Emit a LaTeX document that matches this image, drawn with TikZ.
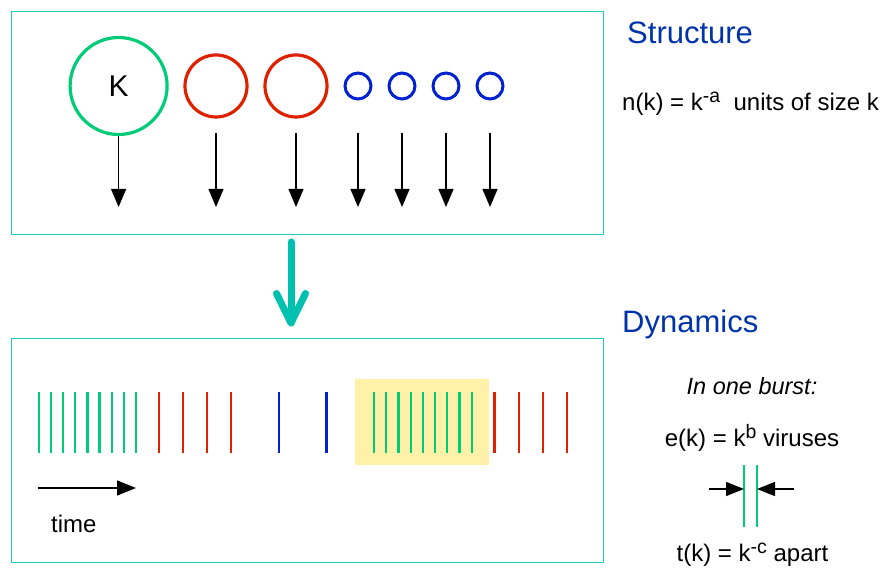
\documentclass[tikz,border=0pt]{standalone}
\usepackage{fontspec}
\setmainfont{Liberation Sans}
\usetikzlibrary{arrows.meta}
\definecolor{cgreen}{RGB}{0,204,119}
\definecolor{cred}{RGB}{221,34,0}
\definecolor{cblue}{RGB}{0,34,204}
\definecolor{ctitle}{RGB}{0,51,170}
\definecolor{cteal}{RGB}{34,204,187}
\definecolor{carrow}{RGB}{0,192,176}
\definecolor{cyellow}{RGB}{255,242,168}
\newcommand\supx[1]{\raisebox{8pt}{\fontsize{19.5}{19.5}\selectfont #1}}
\begin{document}
\begin{tikzpicture}[x=1pt,y=-1pt,
  panel/.style={draw=cteal,line width=1.2pt},
  unitc/.style={circle,draw,inner sep=0pt,line width=3.2pt},
  fallarrow/.style={draw=black,line width=1.1pt,-{Triangle[length=18pt,width=15pt]}},
  bar/.style={line width=2.2pt},
  title/.style={anchor=base west,inner sep=0pt,text=ctitle,font=\fontsize{31}{36}\selectfont},
  body/.style={inner sep=0pt,font=\fontsize{24}{28}\selectfont},
  bigarrow/.style={draw=carrow,line width=7pt,line cap=round,line join=round}
]
\useasboundingbox (0,0) rectangle (887,569);
% panels
\node[panel,minimum width=592pt,minimum height=223pt,anchor=north west,inner sep=0pt] (top) at (11,11) {};
\node[panel,minimum width=592pt,minimum height=224pt,anchor=north west,inner sep=0pt] (bot) at (11,338) {};
% circles
\node[unitc,draw=cgreen,minimum size=97pt,font=\fontsize{30}{34}\selectfont] (c1) at (118.6,86) {K};
\node[unitc,draw=cred,minimum size=62pt] (c2) at (216,86) {};
\node[unitc,draw=cred,minimum size=62pt] (c3) at (296,86) {};
\node[unitc,draw=cblue,minimum size=26pt,line width=3pt] (c4) at (358,86) {};
\node[unitc,draw=cblue,minimum size=26pt,line width=3pt] (c5) at (402,86) {};
\node[unitc,draw=cblue,minimum size=26pt,line width=3pt] (c6) at (446,86) {};
\node[unitc,draw=cblue,minimum size=26pt,line width=3pt] (c7) at (490,86) {};
\coordinate (e1) at (118.6,207);
\draw[fallarrow] (c1.south) -- (e1);
\foreach \i/\x in {2/216,3/296,4/358,5/402,6/446,7/490}{
  \coordinate (s\i) at (\x,133);
  \coordinate (e\i) at (\x,207);
  \draw[fallarrow] (s\i) -- (e\i);
}
% big arrow
\coordinate (ba) at (291,242);
\coordinate (bt) at (291,323);
\coordinate (bl) at (276.5,293.5);
\coordinate (br) at (305.5,293.5);
\draw[bigarrow] (ba) -- (bt);
\draw[bigarrow] (bl) -- (bt) -- (br);
% yellow highlight
\fill[cyellow] (355,379) rectangle (489,465);
% bars
\foreach \x in {39,51.1,63.2,75.3,87.4,99.5,111.6,123.7,135.8}{\draw[bar,cgreen] (\x,392) -- (\x,453);}
\foreach \x in {159,183,207,231}{\draw[bar,cred] (\x,392) -- (\x,453);}
\foreach \x in {279,326.5}{\draw[bar,cblue] (\x,392) -- (\x,453);}
\foreach \x in {374,386.2,398.4,410.6,422.8,435,447.2,459.4,471.6}{\draw[bar,cgreen] (\x,392) -- (\x,453);}
\foreach \x in {494.5,518.6,542.7,566.8}{\draw[bar,cred] (\x,392) -- (\x,453);}
% time arrow
\coordinate (t0) at (37.5,488);
\coordinate (t1) at (136,488);
\draw[draw=black,line width=1.2pt,-{Triangle[length=19pt,width=15pt]}] (t0) -- (t1);
\node[body,anchor=base west] (time) at (51,532) {time};
% right texts
\node[title] (structure) at (627,44) {Structure};
\node[body,anchor=base west] (nk) at (622,111) {n(k) = k\supx{-a}\ \ units of size k};
\node[title] (dynamics) at (622,333) {Dynamics};
\node[body,anchor=base,font=\fontsize{23.5}{28}\itshape] (burst) at (752,395) {In one burst:};
\node[body,anchor=base] (ek) at (752,446.5) {e(k) = k\supx{b} viruses};
\node[body,anchor=base] (tk) at (752.5,561.5) {t(k) = k\supx{-c} apart};
% small burst diagram
\draw[bar,cgreen] (744.3,465) -- (744.3,527);
\draw[bar,cgreen] (756.7,465) -- (756.7,527);
\coordinate (la) at (709,489);
\coordinate (lb) at (744,489);
\coordinate (ra) at (794,489);
\coordinate (rb) at (757,489);
\draw[draw=black,line width=1.2pt,-{Triangle[length=18pt,width=14pt]}] (la) -- (lb);
\draw[draw=black,line width=1.2pt,-{Triangle[length=18pt,width=14pt]}] (ra) -- (rb);
\end{tikzpicture}
\end{document}
